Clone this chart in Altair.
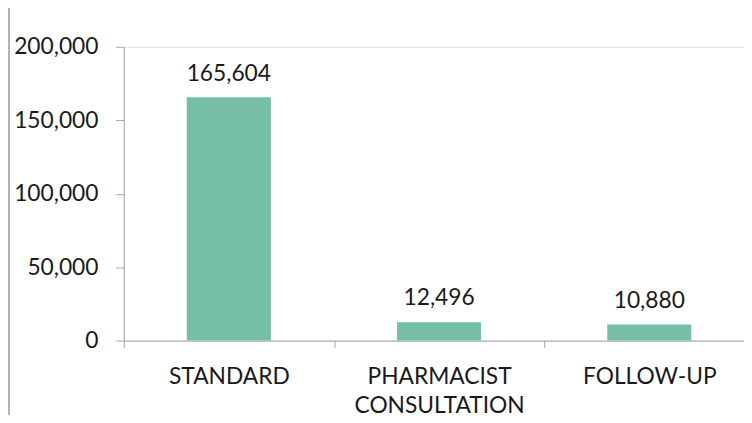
import altair as alt
import pandas as pd

categories = ["STANDARD", "PHARMACIST CONSULTATION", "FOLLOW-UP"]
values = [165604, 12496, 10880]

df = pd.DataFrame({"cat": categories, "val": values})

FONT = "Lato"
TXT = "#1a1a1a"
AX = "#a6a6a6"
BAR = "#76bea6"
FS = 23

x_enc = alt.X(
    "cat:N",
    sort=categories,
    scale=alt.Scale(paddingInner=0, paddingOuter=0, range=[0, 637.5]),
    axis=alt.Axis(
        title=None,
        labelAngle=0,
        tickBand="extent",
        labelExpr="split(datum.label, ' ')",
        labelLineHeight=30,
        labelFontSize=FS,
        labelFont=FONT,
        labelColor=TXT,
        labelPadding=18,
        labelBaseline="top",
        tickSize=7,
        tickColor=AX,
        domainColor=AX,
        grid=False,
    ),
)
y_enc = alt.Y(
    "val:Q",
    scale=alt.Scale(domain=[0, 200000], nice=False),
    axis=alt.Axis(
        title=None,
        values=[0, 50000, 100000, 150000, 200000],
        format=",.0f",
        grid=False,
        labelFontSize=FS,
        labelFont=FONT,
        labelColor=TXT,
        labelPadding=18,
        tickSize=8,
        tickColor=AX,
        domainColor=AX,
    ),
)

bars = alt.Chart(df).mark_bar(color=BAR, width=alt.RelativeBandSize(0.4)).encode(x=x_enc, y=y_enc)
labels = alt.Chart(df).mark_text(
    baseline="alphabetic", dy=-17, fontSize=FS, font=FONT, color=TXT
).encode(
    x=x_enc,
    y=y_enc,
    text=alt.Text("val:Q", format=",.0f"),
)

border = alt.Chart(df).mark_rule(color="#b4b4b4", strokeWidth=2).encode(
    x=alt.value(-116), y=alt.value(-40), y2=alt.value(372)
)

chart = (
    alt.layer(bars, labels, border)
    .properties(
        width=627,
        height=297,
        autosize=alt.AutoSizeParams(type="none"),
        padding={"left": 117, "top": 37, "right": 0, "bottom": 75},
    )
    .configure_view(strokeWidth=0, stroke="transparent")
    .configure_axis(grid=False)
    .configure(background="white")
)

chart.save("out.html", embed_options={"renderer": "svg", "actions": False})
